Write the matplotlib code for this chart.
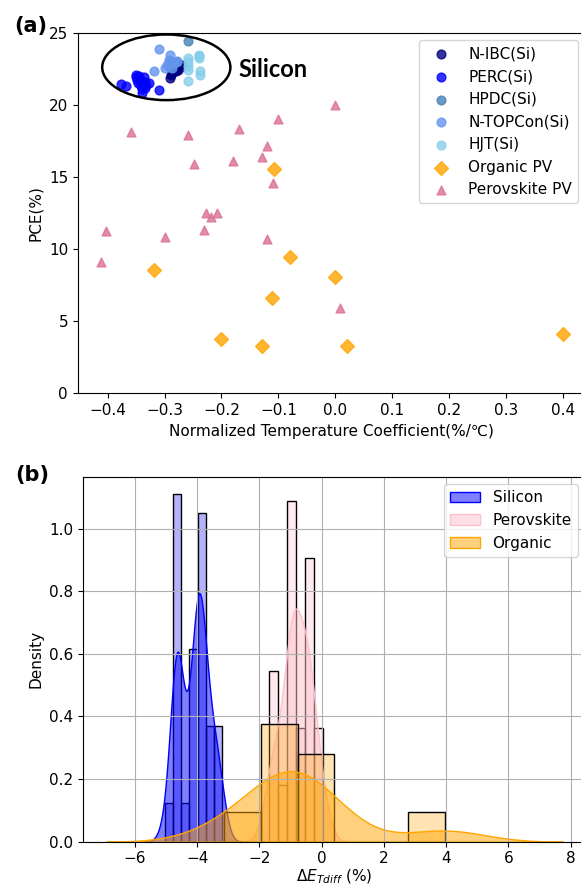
import matplotlib
matplotlib.use("Agg")
import matplotlib.pyplot as plt
from matplotlib.patches import Ellipse
import seaborn as sns

# ---------------- Panel (a) data ----------------
nibc_x = [-0.290, -0.289, -0.287, -0.280, -0.277, -0.271, -0.270]
nibc_y = [21.85, 22.10, 22.20, 22.32, 22.40, 22.64, 22.78]

perc_x = [-0.376, -0.367, -0.350, -0.350, -0.348, -0.346, -0.345, -0.342, -0.340,
          -0.340, -0.337, -0.335, -0.335, -0.333, -0.328, -0.343, -0.309]
perc_y = [21.42, 21.30, 22.10, 21.90, 21.70, 21.50, 22.00, 21.30, 21.10,
          20.85, 21.90, 21.60, 21.20, 21.40, 21.50, 21.75, 21.03]

hpdc_x = [-0.258, -0.279, -0.290]
hpdc_y = [24.40, 23.00, 22.60]

topcon_x = [-0.309, -0.318, -0.290, -0.293, -0.296, -0.284, -0.299, -0.287, -0.278, -0.292]
topcon_y = [23.85, 22.35, 23.48, 23.13, 22.78, 22.90, 22.55, 22.55, 23.01, 22.95]

hjt_x = [-0.259, -0.259, -0.259, -0.259, -0.240, -0.240, -0.238, -0.238, -0.258, -0.240]
hjt_y = [23.25, 22.97, 22.67, 22.44, 23.48, 23.25, 22.32, 22.04, 21.65, 23.35]

opv_x = [-0.319, -0.107, -0.079, 0.000, -0.112, -0.200, -0.129, 0.020, 0.400]
opv_y = [8.55, 15.53, 9.43, 8.04, 6.63, 3.77, 3.28, 3.28, 4.09]

psc_x = [-0.412, -0.403, -0.359, -0.299, -0.259, -0.249, -0.230, -0.227, -0.219, -0.208,
         -0.180, -0.169, -0.129, -0.120, -0.120, -0.110, -0.100, 0.000, 0.008]
psc_y = [9.13, 11.28, 18.09, 10.86, 17.88, 15.90, 11.32, 12.48, 12.25, 12.48,
         16.10, 18.30, 16.40, 17.17, 10.70, 14.56, 18.99, 19.99, 5.91]

# ---------------- Panel (b) data ----------------
silicon_dE = [-5.05, -4.85,
              -4.76, -4.74, -4.72, -4.70, -4.69, -4.68, -4.67, -4.66, -4.65,
              -4.64, -4.63, -4.62, -4.61, -4.60, -4.58, -4.56, -4.54, -4.53,
              -4.40, -4.30,
              -4.22, -4.18, -4.15, -4.12, -4.10, -4.08, -4.06, -4.04, -4.02, -4.00,
              -3.98, -3.96, -3.95, -3.94, -3.93, -3.92, -3.91, -3.90, -3.89,
              -3.88, -3.87, -3.86, -3.85, -3.83, -3.80, -3.77, -3.74,
              -3.70, -3.65, -3.60, -3.56, -3.52, -3.48,
              -3.44, -3.40, -3.35, -3.30, -3.25, -3.19]
perovskite_dE = [-1.70, -1.52, -1.47,
                 -1.22,
                 -1.05, -1.00, -0.97, -0.93, -0.90, -0.87,
                 -0.78, -0.68,
                 -0.52, -0.48, -0.44, -0.40, -0.35,
                 -0.19, 0.04]
organic_dE = [-3.14, -1.80, -1.50, -1.20, -0.90, -0.60, -0.30, 0.20, 3.96]

# ---------------- Figure ----------------
W, H = 581, 884
fig = plt.figure(figsize=(W / 100, H / 100), dpi=100)

def frac(l, r, t, b):
    return [l / W, 1 - b / H, (r - l) / W, (b - t) / H]

ax1 = fig.add_axes(frac(77.8, 585.8, 32.7, 393.3))
ax2 = fig.add_axes(frac(83.3, 585.6, 476.7, 841.7))

FS = 11
s = 40
ax1.scatter(nibc_x, nibc_y, s=s, color='navy', alpha=0.8, label='N-IBC(Si)', zorder=3)
ax1.scatter(perc_x, perc_y, s=s, color='blue', alpha=0.8, label='PERC(Si)', zorder=3)
ax1.scatter(hpdc_x, hpdc_y, s=s, color='steelblue', alpha=0.8, label='HPDC(Si)', zorder=3)
ax1.scatter(topcon_x, topcon_y, s=s, color='cornflowerblue', alpha=0.8, label='N-TOPCon(Si)', zorder=3)
ax1.scatter(hjt_x, hjt_y, s=s, color='skyblue', alpha=0.8, label='HJT(Si)', zorder=3)
ax1.scatter(opv_x, opv_y, s=50, marker='D', color='orange', alpha=0.8, label='Organic PV', zorder=3)
ax1.scatter(psc_x, psc_y, s=s, marker='^', color='palevioletred', alpha=0.8, label='Perovskite PV', zorder=3)

ax1.add_patch(Ellipse((-0.297, 22.6), 0.2254, 4.55, fill=False, edgecolor='black', linewidth=1.8, zorder=4))
ax1.text(-0.171, 22.42, 'Silicon', fontsize=17, fontweight='bold', family='Lato',
         ha='left', va='center')
ax1.set_ylim(0, 25)
ax1.set_xlabel('Normalized Temperature Coefficient(%/℃)', fontsize=FS)
ax1.set_ylabel('PCE(%)', fontsize=FS)
ax1.tick_params(labelsize=FS)
ax1.legend(loc='upper right', fontsize=FS)

# Panel (b)
groups = [(silicon_dE, 'blue', 'Silicon', 7),
          (perovskite_dE, 'pink', 'Perovskite', 6),
          (organic_dE, 'orange', 'Organic', 6)]
for data, col, lab, nb in groups:
    sns.histplot(data, bins=nb, stat='density', color=col, alpha=0.3,
                 edgecolor='black', linewidth=1, ax=ax2)
    sns.kdeplot(data, color=col, fill=True, alpha=0.5, label=lab, ax=ax2)

ax2.grid(True)
ax2.set_xlabel(r'$\Delta E_{Tdiff}$ (%)', fontsize=FS, labelpad=0.5)
ax2.set_ylabel('Density', fontsize=FS)
ax2.tick_params(labelsize=FS)
ax2.legend(loc='upper right', fontsize=FS)

fig.text(14 / W, 1 - 26 / H, '(a)', fontsize=15, fontweight='bold', va='center')
fig.text(15 / W, 1 - 475 / H, '(b)', fontsize=15, fontweight='bold', va='center')

fig.savefig('out.png', dpi=100)
